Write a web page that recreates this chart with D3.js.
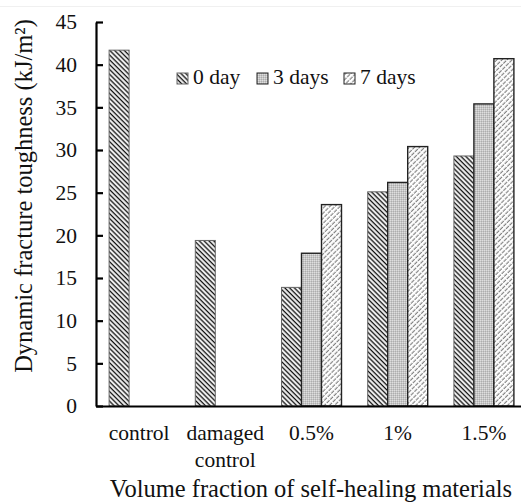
<!DOCTYPE html>
<html><head><meta charset="utf-8">
<script src="https://cdn.jsdelivr.net/npm/d3@7"></script>
<style>body{margin:0;background:#fff}svg{display:block}svg text{font-family:"Liberation Serif","Times New Roman",serif !important;fill:#111}</style>
</head><body><svg id="c" width="521" height="503"></svg>
<script>
const categories = ["control", "damaged control", "0.5%", "1%", "1.5%"];
const categoryLines = [["control"], ["damaged", "control"], ["0.5%"], ["1%"], ["1.5%"]];
const seriesNames = ["0 day", "3 days", "7 days"];
const day0 = [41.7, 19.4, 13.9, 25.1, 29.3];
const day3 = [null, null, 17.9, 26.2, 35.4];
const day7 = [null, null, 23.6, 30.4, 40.7];
const yTicks = [0, 5, 10, 15, 20, 25, 30, 35, 40, 45];
const yTitle = "Dynamic fracture toughness (kJ/m²)";
const xTitle = "Volume fraction of self-healing materials";

const FONT = '"Liberation Serif", "Times New Roman", serif';
const series = [day0, day3, day7];
const svg = d3.select("#c");
const defs = svg.append("defs");

// patterns
const p0 = defs.append("pattern").attr("id","p0").attr("patternUnits","userSpaceOnUse")
  .attr("width",3.4).attr("height",3.4).attr("patternTransform","rotate(-45)");
p0.append("rect").attr("width",3.4).attr("height",3.4).attr("fill","#fff");
p0.append("line").attr("x1",1.2).attr("x2",1.2).attr("y1",0).attr("y2",3.4).attr("stroke","#111").attr("stroke-width",1.4);

const p3 = defs.append("pattern").attr("id","p3").attr("patternUnits","userSpaceOnUse")
  .attr("width",2).attr("height",2);
p3.append("rect").attr("width",2).attr("height",2).attr("fill","#c6c6c6");
p3.append("rect").attr("x",0).attr("y",0).attr("width",1).attr("height",1).attr("fill","#dedede");
p3.append("rect").attr("x",1).attr("y",1).attr("width",1).attr("height",1).attr("fill","#adadad");

const p7 = defs.append("pattern").attr("id","p7").attr("patternUnits","userSpaceOnUse")
  .attr("width",3.6).attr("height",5).attr("patternTransform","rotate(45)");
p7.append("rect").attr("width",3.6).attr("height",5).attr("fill","#fff");
p7.append("line").attr("x1",1.2).attr("x2",1.2).attr("y1",0).attr("y2",4).attr("stroke","#7a7a7a").attr("stroke-width",1.1);

const fills = ["url(#p0)","url(#p3)","url(#p7)"];
const strokes = ["#666","#222","#222"];

// faint top line (scan edge)
svg.append("line").attr("x1",0).attr("x2",521).attr("y1",6.5).attr("y2",6.5).attr("stroke","#f0f0f0");

const x = d3.scaleBand().domain(categories).range([96, 527]).paddingInner(0.304).paddingOuter(0.152);
const xs = d3.scaleBand().domain(seriesNames).range([0, x.bandwidth()]);
const y = d3.scaleLinear().domain([0, 45]).range([406, 22]);

// bars
series.forEach((vals, si) => {
  svg.append("g").selectAll("rect")
    .data(vals.map((v,i)=>({v, c: categories[i]})).filter(d=>d.v!=null))
    .join("rect")
    .attr("x", d => x(d.c) + xs(seriesNames[si]))
    .attr("y", d => y(d.v))
    .attr("width", xs.bandwidth())
    .attr("height", d => y(0) - y(d.v))
    .attr("fill", fills[si])
    .attr("stroke", strokes[si])
    .attr("stroke-width", si === 0 ? 1 : 1.4);
});

// y axis
const yAxis = svg.append("g").attr("transform","translate(96,0)")
  .call(d3.axisLeft(y).tickValues(yTicks).tickSizeInner(-7).tickSizeOuter(0).tickPadding(19));
yAxis.attr("font-family", null).attr("font-size", null);
yAxis.select(".domain").attr("stroke","#000").attr("stroke-width",2.2);
yAxis.selectAll(".tick line").attr("stroke","#000").attr("stroke-width",2.2);
yAxis.selectAll(".tick text").style("font-size","21.5px").style("font-family",FONT).attr("fill","#111");

// x axis
const xAxis = svg.append("g").attr("transform","translate(0,406)")
  .call(d3.axisBottom(x).tickSize(0).tickFormat(""));
xAxis.attr("font-family", null).attr("font-size", null);
xAxis.select(".domain").attr("stroke","#000").attr("stroke-width",2.2);
xAxis.selectAll(".tick").each(function(d, i){
  const t = d3.select(this).append("text").attr("text-anchor","middle")
    .style("font-size","21.5px").style("font-family",FONT).attr("fill","#111");
  categoryLines[i].forEach((ln, j) => {
    t.append("tspan").attr("x",0).attr("y", 34 + j*27).text(ln);
  });
});

// titles
svg.append("text").attr("transform","translate(32,196) rotate(-90)").attr("text-anchor","middle")
  .style("font-size","24.5px").style("font-family",FONT).text(yTitle);
svg.append("text").attr("x",311).attr("y",497).attr("text-anchor","middle")
  .style("font-size","24.5px").style("font-family",FONT).text(xTitle);

// legend
const legX = [177, 257, 344];
const lg = svg.append("g");
seriesNames.forEach((s, i) => {
  lg.append("rect").attr("x",legX[i]).attr("y",73).attr("width",11).attr("height",11)
    .attr("fill",fills[i]).attr("stroke",strokes[i]).attr("stroke-width",1);
  lg.append("text").attr("x",legX[i]+16).attr("y",84)
    .style("font-size","21.5px").style("font-family",FONT).text(s);
});
</script></body></html>
